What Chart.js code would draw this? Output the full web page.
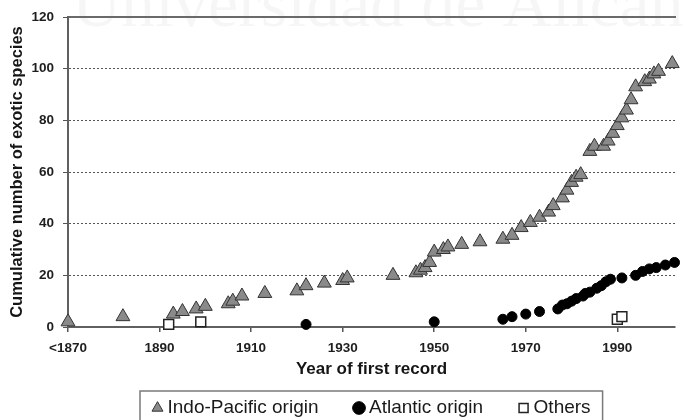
<!DOCTYPE html>
<html>
<head>
<meta charset="utf-8">
<script src="https://cdn.jsdelivr.net/npm/chart.js@4/dist/chart.umd.min.js"></script>
<style>
  html, body { margin: 0; padding: 0; background: #fff; overflow: hidden; }
  #wrap { width: 684px; height: 420px; }
</style>
</head>
<body>
<div id="wrap"><canvas id="c" width="684" height="420"></canvas></div>
<script>
// ---- data ----
const indoYears  = [1870,1882,1893,1895,1898,1900,1905,1906,1908,1913,1920,1922,1926,1930,1931,1941,1946,1947,1948,1949,1950,1952,1953,1956,1960,1965,1967,1969,1971,1973,1975,1976,1978,1979,1980,1981,1982,1984,1985,1987,1988,1989,1990,1991,1992,1993,1994,1996,1997,1998,1999,2002];
const indoCounts = [2,4,5,6,7,8,9,10,12,13,14,16,17,18,19,20,21,22,23,25,29,30,31,32,33,34,35.5,38.5,40.5,42.5,44.5,47,50,53,56,58,59,68,70,70,72,75,78,81,84,88,93,95,96,98,99,102];

const atlYears   = [1922,1950,1965,1967,1970,1973,1977,1978,1979,1980,1981,1982.5,1983,1984,1985.5,1986.5,1987.5,1988.5,1991,1994,1995.5,1997,1998.5,2000.5,2002.5];
const atlCounts  = [1,2,3,4,5,6,7,8.5,9,10,11,12,13,13.5,15,16,17.5,18.5,19,20,21.5,22.5,23,24,25];

const othYears   = [1892,1899,1990,1991];
const othCounts  = [1,2,3,4];

const seriesNames = ['Indo-Pacific origin', 'Atlantic origin', 'Others'];
const xTicks = [1870, 1890, 1910, 1930, 1950, 1970, 1990];
const xTickLabels = ['<1870', '1890', '1910', '1930', '1950', '1970', '1990'];
const xMin = 1870, xMax = 2002.6;
const yMin = 0, yMax = 120, yStep = 20;
const yTitle = 'Cumulative number of exotic species';
const xTitle = 'Year of first record';
const watermark = 'Universidad de Alicante';

function pts(xs, ys) { return xs.map((x, i) => ({ x: x, y: ys[i] })); }

const SANS = "'Liberation Sans', Arial, sans-serif";
const LEG_FONT = 19, LEG_PAD = 40, LEG_X = 157, LEG_Y = 408;

const helperPlugin = {
  id: 'helper',
  beforeDraw(chart) {
    const ctx = chart.ctx;
    ctx.save();
    ctx.fillStyle = 'rgba(0,0,0,0.035)';
    ctx.font = "68px 'Liberation Serif', serif";
    ctx.textBaseline = 'alphabetic';
    ctx.fillText(watermark, 72, 26);
    ctx.restore();
  },
  afterLayout(chart) {
    const l = chart.legend;
    if (!l) return;
    l.left = LEG_X - LEG_PAD;
    l.right = 684;
    l.top = LEG_Y - LEG_PAD - LEG_FONT / 2;
    l.bottom = 440;
  },
  afterDraw(chart) {
    const l = chart.legend;
    if (!l || !l.legendHitBoxes || !l.legendHitBoxes.length) return;
    const hb = l.legendHitBoxes;
    const left = hb[0].left - 17;
    const last = hb[hb.length - 1];
    const right = last.left + last.width + 12;
    const ctx = chart.ctx;
    ctx.save();
    ctx.strokeStyle = '#7a7a7a';
    ctx.lineWidth = 1.5;
    ctx.strokeRect(left, 391, right - left, 60);
    ctx.restore();
  }
};

new Chart(document.getElementById('c'), {
  type: 'scatter',
  data: {
    datasets: [
      {
        label: seriesNames[0],
        data: pts(indoYears, indoCounts),
        pointStyle: 'triangle',
        pointRadius: 8,
        backgroundColor: '#8a8a8a',
        borderColor: '#333333',
        borderWidth: 1,
        clip: false
      },
      {
        label: seriesNames[1],
        data: pts(atlYears, atlCounts),
        pointStyle: 'circle',
        pointRadius: 5,
        backgroundColor: '#000000',
        borderColor: '#000000',
        borderWidth: 1,
        clip: false
      },
      {
        label: seriesNames[2],
        data: pts(othYears, othCounts),
        pointStyle: 'rect',
        pointRadius: 7,
        backgroundColor: '#ffffff',
        borderColor: '#222222',
        borderWidth: 1.5,
        clip: false
      }
    ]
  },
  options: {
    responsive: false,
    animation: false,
    devicePixelRatio: 1,
    layout: { padding: { top: 16, left: 0, right: 0, bottom: 20 } },
    plugins: {
      tooltip: { enabled: false },
      legend: {
        display: true,
        position: 'bottom',
        align: 'start',
        maxHeight: 20,
        labels: {
          usePointStyle: true,
          boxWidth: 1,
          boxHeight: 9,
          padding: LEG_PAD,
          color: '#1a1a1a',
          font: { family: SANS, size: LEG_FONT, weight: 'normal' }
        }
      }
    },
    scales: {
      x: {
        type: 'linear',
        position: 'bottom',
        min: xMin,
        max: xMax,
        afterBuildTicks: s => { s.ticks = xTicks.map(v => ({ value: v })); },
        afterFit: s => { s.height = 53; },
        ticks: {
          autoSkip: false,
          maxRotation: 0,
          padding: 8,
          color: '#1e1e1e',
          font: { family: SANS, size: 13.5, weight: 'bold' },
          callback: (v) => { const i = xTicks.indexOf(v); return i >= 0 ? xTickLabels[i] : ''; }
        },
        grid: { display: true, drawOnChartArea: false, drawTicks: true, tickLength: 5, color: '#555', lineWidth: 1.5 },
        border: { display: true, color: '#606060', width: 2 },
        title: {
          display: true,
          text: xTitle,
          color: '#151515',
          padding: { top: 3, bottom: 0 },
          font: { family: SANS, size: 17, weight: 'bold' }
        }
      },
      x2: {
        type: 'linear',
        position: 'top',
        min: xMin,
        max: xMax,
        display: true,
        ticks: { display: false },
        grid: { display: false, drawTicks: false },
        border: { display: true, color: '#6a6a6a', width: 2 }
      },
      y: {
        type: 'linear',
        min: yMin,
        max: yMax,
        afterFit: s => { s.width = 68; },
        ticks: {
          stepSize: yStep,
          padding: 9,
          color: '#1e1e1e',
          font: { family: SANS, size: 13.5, weight: 'bold' }
        },
        grid: {
          display: true,
          drawTicks: true,
          tickLength: 5,
          lineWidth: 1,
          color: ctx => (ctx.index === 0 ? 'rgba(0,0,0,0)' : '#5a5252'),
          tickColor: '#555'
        },
        border: { display: true, color: '#606060', width: 2, dash: [2, 2] },
        title: {
          display: true,
          text: yTitle,
          color: '#151515',
          padding: { top: 8, bottom: 4 },
          font: { family: SANS, size: 16.5, weight: 'bold' }
        }
      }
    }
  },
  plugins: [helperPlugin]
});
</script>
</body>
</html>
